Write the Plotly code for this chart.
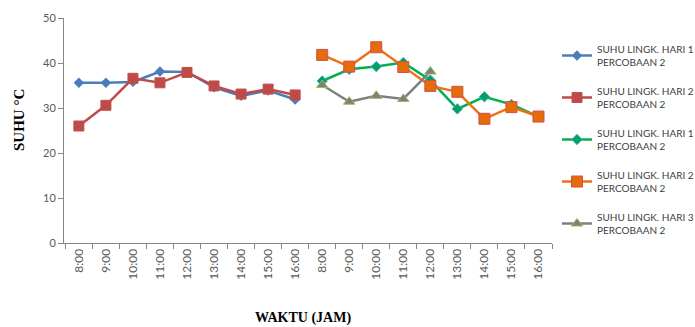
import plotly.graph_objects as go

hours = ["8:00", "9:00", "10:00", "11:00", "12:00", "13:00", "14:00", "15:00", "16:00"]
tick_labels = hours + hours
x_first = list(range(0, 9))
x_second = list(range(9, 18))

hari1_a = [35.6, 35.6, 35.8, 38.1, 38.0, 34.6, 32.7, 33.9, 31.9]
hari2_a = [26.0, 30.6, 36.6, 35.6, 37.9, 34.9, 33.1, 34.2, 32.9]
hari1_b = [36.0, 38.6, 39.2, 40.1, 36.2, 29.8, 32.5, 30.8, 28.1]
hari2_b = [41.8, 39.2, 43.5, 39.1, 34.9, 33.6, 27.6, 30.2, 28.1]
hari3_b = [35.1, 31.4, 32.7, 32.0, 38.1]

names = [
    "SUHU LINGK. HARI 1<br>PERCOBAAN 2",
    "SUHU LINGK. HARI 2<br>PERCOBAAN 2",
    "SUHU LINGK. HARI 1<br>PERCOBAAN 2",
    "SUHU LINGK. HARI 2<br>PERCOBAAN 2",
    "SUHU LINGK. HARI 3<br>PERCOBAAN 2",
]

fig = go.Figure()
fig.add_trace(go.Scatter(x=x_first, y=hari1_a, name=names[0], mode="lines+markers", legendgroup="g1",
                         line=dict(color="#4a7ebb", width=2.5),
                         marker=dict(symbol="diamond", size=8, color="#4a7ebb")))
fig.add_trace(go.Scatter(x=x_first, y=hari2_a, name=names[1], mode="lines+markers", legendgroup="g2",
                         line=dict(color="#be4b48", width=2.5),
                         marker=dict(symbol="square", size=10, color="#be4b48",
                                     line=dict(color="#c0504d", width=1))))
fig.add_trace(go.Scatter(x=x_second, y=hari1_b, name=names[2], mode="lines+markers", legendgroup="g3",
                         line=dict(color="#00b050", width=2.5),
                         marker=dict(symbol="diamond", size=8, color="#00a060",
                                     line=dict(color="#4bacc6", width=1))))
fig.add_trace(go.Scatter(x=x_second, y=hari2_b, name=names[3], mode="lines+markers", legendgroup="g4",
                         line=dict(color="#f07018", width=2.5),
                         marker=dict(symbol="square", size=11, color="#e46c0a",
                                     line=dict(color="#d0504d", width=1))))
fig.add_trace(go.Scatter(x=x_second[:len(hari3_b)], y=hari3_b, name=names[4], mode="lines+markers", legendgroup="g5",
                         line=dict(color="#7f7f7f", width=2.5),
                         marker=dict(symbol="triangle-up", size=10, color="#7f7f7f",
                                     line=dict(color="#9bbb59", width=1))))

L, R, T, B = 64, 143, 18, 84
W, H = 695, 327

fig.update_layout(
    width=W, height=H,
    margin=dict(l=L, r=R, t=T, b=B, autoexpand=False),
    paper_bgcolor="white", plot_bgcolor="white",
    font=dict(family="Lato, Liberation Sans, sans-serif", color="#404040", size=10),
    showlegend=True,
    legend=dict(x=(557 - L) / (W - L - R), y=(H - B - 36) / (H - T - B), xanchor="left", yanchor="top",
                font=dict(size=10, color="#404040"), traceorder="grouped",
                itemwidth=30, tracegroupgap=13, bgcolor="rgba(0,0,0,0)"),
    xaxis=dict(range=[-0.55, 17.5], tickmode="array", tickvals=list(range(18)),
               ticktext=tick_labels, tickangle=-90, ticks="", showgrid=False,
               showline=True, linecolor="#868686", linewidth=1, zeroline=False,
               tickfont=dict(size=12, color="#595959"),
               minor=dict(tickmode="array", tickvals=[i + 0.5 for i in range(-1, 18)],
                          ticks="outside", ticklen=5, tickcolor="#868686", showgrid=False)),
    yaxis=dict(range=[0, 50], tickvals=[0, 10, 20, 30, 40, 50], ticks="outside",
               ticklen=5, tickcolor="#868686", showgrid=False, showline=True,
               linecolor="#868686", linewidth=1, zeroline=False,
               tickfont=dict(size=11, color="#595959")),
    annotations=[
        dict(text="<b>SUHU °C</b>", x=19, y=120, xref="paper", yref="paper",
             showarrow=False, textangle=-90,
             font=dict(family="Liberation Serif, serif", size=15, color="#000000")),
        dict(text="<b>WAKTU (JAM)</b>", x=303, y=318, xref="paper", yref="paper",
             showarrow=False,
             font=dict(family="Liberation Serif, serif", size=14, color="#000000")),
    ],
)

pw = W - L - R
ph = H - T - B
for a in fig.layout.annotations:
    px, py = a.x, a.y
    a.x = (px - L) / pw
    a.y = (H - B - py) / ph
    a.xanchor = "center"
    a.yanchor = "middle"

fig.write_html("out.html", config={"displayModeBar": False},
               post_script="document.body.style.margin='0';document.body.style.overflow='hidden';")
